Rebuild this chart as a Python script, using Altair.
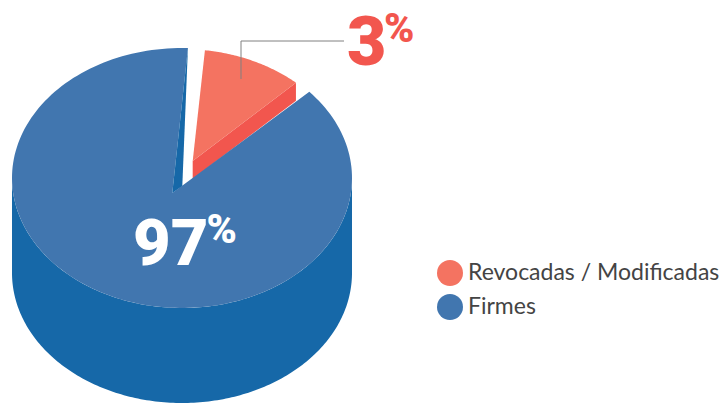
import math
import altair as alt

# Chart content
CATEGORIES = ["Revocadas / Modificadas", "Firmes"]
SHARE_LABELS = ["3", "97"]
TOP_COLORS = ["#F47361", "#4176AF"]
SIDE_COLORS = ["#F2564E", "#1668A8"]
# Drawn slice extents (degrees around the ellipse)
RED_ARC = [47.6, 82.2]
BLUE_ARC = [88.0, 401.5]

# Pie geometry in page pixels
CX, CY, RX, RY, DEPTH = 182.0, 178.0, 170.0, 130.0, 95.0
RED_APEX = (192.7, 161.0)
BLUE_APEX = (172.3, 193.0)
CUT_FOOT = (182.3, 186.0)


def pt(deg, rx=RX, ry=RY, dy=0.0):
    a = math.radians(deg)
    return [CX + rx * math.cos(a), CY - ry * math.sin(a) + dy]


def arc(a0, a1, dy=0.0, rx=RX, ry=RY, n=180):
    return [pt(a0 + (a1 - a0) * i / n, rx, ry, dy) for i in range(n + 1)]


def feature(ring, **props):
    ring = [list(p) for p in ring]
    ring.append(ring[0])
    return {"type": "Feature", "properties": props,
            "geometry": {"type": "Polygon", "coordinates": [ring]}}


wall = feature(arc(180, 360, DEPTH)[::1] + arc(360, 180))
red_p0 = pt(RED_ARC[0], 169, 129)
red_side = feature([RED_APEX, red_p0, [red_p0[0], red_p0[1] + 18],
                    [RED_APEX[0], RED_APEX[1] + 18]])
red_top = feature([RED_APEX] + arc(RED_ARC[0], RED_ARC[1], rx=169, ry=129, n=60),
                  name=CATEGORIES[0])
blue_top = feature([BLUE_APEX] + arc(BLUE_ARC[1], BLUE_ARC[0]), name=CATEGORIES[1])
cut_wall = feature([pt(BLUE_ARC[0]), BLUE_APEX, CUT_FOOT])

proj = alt.Projection(type="identity", scale=1, translate=[-8, -8])


def faces(features, color):
    return alt.Chart(alt.Data(values=features)).mark_geoshape(
        stroke=None, fill=color, strokeWidth=0
    ).project(**proj.to_dict())


wall_l = faces([wall], SIDE_COLORS[1])
red_side_l = faces([red_side], SIDE_COLORS[0])
tops = alt.Chart(alt.Data(values=[red_top, blue_top])).mark_geoshape(strokeWidth=0).encode(
    color=alt.Color(
        "properties.name:N",
        scale=alt.Scale(domain=CATEGORIES, range=TOP_COLORS),
        legend=alt.Legend(
            title=None, orient="none", legendX=429, legendY=252,
            symbolType="circle", symbolSize=676, symbolStrokeWidth=0,
            labelFont="Lato", labelFontSize=23, labelColor="#444444",
            labelLimit=300, labelOffset=5, rowPadding=8, padding=0,
        ),
    )
).project(**proj.to_dict())
cut_l = faces([cut_wall], SIDE_COLORS[1])

leader = alt.Chart(alt.Data(values=[{
    "type": "Feature", "properties": {},
    "geometry": {"type": "LineString",
                 "coordinates": [[241, 79], [241, 41], [344, 41]]}}])).mark_geoshape(
    filled=False, stroke="#808080", strokeWidth=1
).project(**proj.to_dict())


def label(text, x, y, size, color):
    return alt.Chart(alt.Data(values=[{"t": text}])).mark_text(
        font="Roboto", fontWeight=900, fontSize=size, color=color,
        align="left", baseline="alphabetic",
    ).encode(text="t:N", x=alt.value(x - 8), y=alt.value(y - 8))


chart = alt.layer(
    wall_l, red_side_l, tops, cut_l, leader,
    label(SHARE_LABELS[0], 347, 65, 68, "#F2564E"),
    label("%", 384, 42, 41, "#F2564E"),
    label(SHARE_LABELS[1], 133, 265, 65, "#FFFFFF"),
    label("%", 206.5, 243, 41, "#FFFFFF"),
).properties(
    width=712, height=395, padding=0,
    autosize=alt.AutoSizeParams(type="none"),
).configure_view(stroke=None)

chart.save("out.html", embed_options={"renderer": "svg", "actions": False})
